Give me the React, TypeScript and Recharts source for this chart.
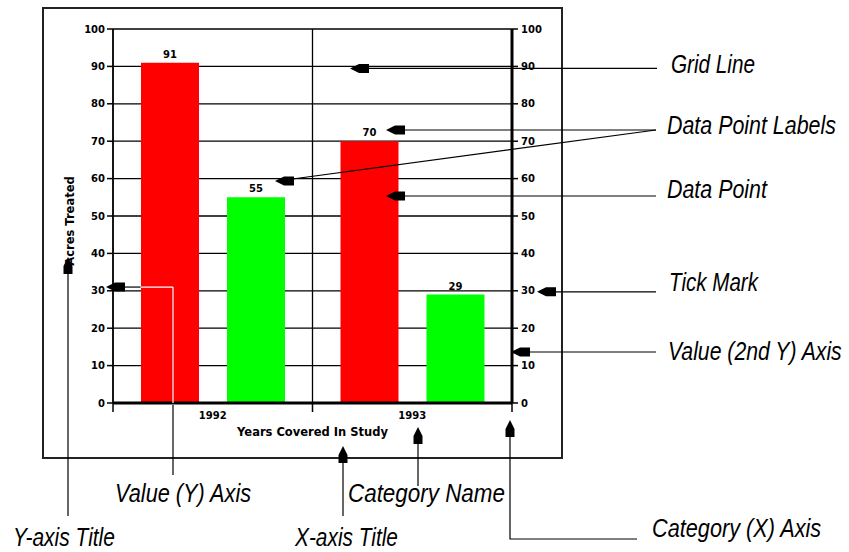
import React from 'react'
import { ComposedChart, Bar, Line, XAxis, YAxis, CartesianGrid, LabelList } from 'recharts'

const years = ['1992', '1993']
const redValues = [91, 70]
const greenValues = [55, 29]
const valueTicks = [0, 10, 20, 30, 40, 50, 60, 70, 80, 90, 100]

const data = years.map((year, i) => ({ year, red: redValues[i], green: greenValues[i] }))

const W = 849
const H = 552
const PLOT_LEFT = 113
const PLOT_RIGHT = 512
const PLOT_TOP = 29
const PLOT_BOTTOM = 403
const AXIS_W = 60
const XAXIS_H = 30

const chartFont = "'DejaVu Sans', 'Liberation Sans', sans-serif"
const noteFont = "'Liberation Sans', Arial, sans-serif"
const NOTE_SIZE = 26

const band = (PLOT_RIGHT - PLOT_LEFT) / years.length
const yPos = (v: number) => PLOT_BOTTOM - ((PLOT_BOTTOM - PLOT_TOP) * v) / 100

// the callout text is a narrow italic; squeeze a normal italic to the wanted width
const ctx = document.createElement('canvas').getContext('2d')
function squeeze(text: string, len: number) {
    if (!ctx) return 0.8
    ctx.font = `italic ${NOTE_SIZE}px 'Liberation Sans'`
    return len / ctx.measureText(text).width
}

const CategoryTick = (props: any) => {
    const { x, payload, index } = props
    return (
        <g>
            <line x1={x - band / 2} x2={x - band / 2} y1={PLOT_BOTTOM} y2={PLOT_BOTTOM + 9} stroke="#000" strokeWidth={1.5} />
            {index === years.length - 1 && (
                <line x1={x + band / 2} x2={x + band / 2} y1={PLOT_BOTTOM} y2={PLOT_BOTTOM + 9} stroke="#000" strokeWidth={1.5} />
            )}
            <text x={x} y={PLOT_BOTTOM + 16} textAnchor="middle" fontFamily={chartFont} fontWeight="bold" fontSize={10} fill="#000">
                {payload.value}
            </text>
        </g>
    )
}

// arrow head, tip at (x, y), pointing 'left' or 'up'
function Arrow({ x, y, dir }: { x: number; y: number; dir: 'left' | 'up' }) {
    const pts = dir === 'left'
        ? [[0, 0], [9, -4.5], [19, -4.5], [19, 4.5], [9, 4.5]]
        : [[0, 0], [-4.5, 9], [-4.5, 17], [4.5, 17], [4.5, 9]]
    return <polygon points={pts.map(([dx, dy]) => `${x + dx},${y + dy}`).join(' ')} fill="#000" />
}

const notes = [
    { text: 'Grid Line', x: 671, y: 73, len: 84 },
    { text: 'Data Point Labels', x: 667, y: 134, len: 169 },
    { text: 'Data Point', x: 667, y: 198, len: 100 },
    { text: 'Tick Mark', x: 669, y: 291, len: 89 },
    { text: 'Value (2nd Y) Axis', x: 668, y: 360, len: 175 },
    { text: 'Value (Y) Axis', x: 115, y: 502, len: 137 },
    { text: 'Category Name', x: 348, y: 502, len: 157 },
    { text: 'Y-axis Title', x: 13, y: 546, len: 102 },
    { text: 'X-axis Title', x: 295, y: 546, len: 103 },
    { text: 'Category (X) Axis', x: 652, y: 537, len: 170 },
]

export default function App() {
    const barLeft = PLOT_LEFT + (band - (58 * 2 + 28)) / 2
    return (
        <div style={{ position: 'absolute', left: 0, top: 0, width: W, height: H, background: '#fff' }}>
            <ComposedChart
                width={W}
                height={H}
                data={data}
                barGap={28}
                margin={{
                    top: PLOT_TOP,
                    left: PLOT_LEFT - AXIS_W,
                    right: W - PLOT_RIGHT - AXIS_W,
                    bottom: H - PLOT_BOTTOM - XAXIS_H,
                }}
            >
                <CartesianGrid
                    yAxisId="left"
                    stroke="#000"
                    strokeWidth={1.3}
                    verticalCoordinatesGenerator={() => years.map((_, i) => PLOT_LEFT + band * i)}
                />
                <XAxis
                    dataKey="year"
                    height={XAXIS_H}
                    interval={0}
                    tickLine={false}
                    axisLine={{ stroke: '#000', strokeWidth: 3 }}
                    tick={<CategoryTick />}
                    label={(p: any) => (
                        <text x={(PLOT_LEFT + PLOT_RIGHT) / 2} y={PLOT_BOTTOM + 33} textAnchor="middle" fontFamily={chartFont} fontWeight="bold" fontSize={11.5} fill="#000">
                            Years Covered In Study
                        </text>
                    )}
                />
                <YAxis
                    yAxisId="left"
                    width={AXIS_W}
                    domain={[0, 100]}
                    ticks={valueTicks}
                    interval={0}
                    tickSize={6}
                    tickMargin={2}
                    axisLine={{ stroke: '#000', strokeWidth: 1.5 }}
                    tickLine={{ stroke: '#000', strokeWidth: 1.5 }}
                    tick={{ fill: '#000', fontSize: 10, fontWeight: 'bold', fontFamily: chartFont }}
                    label={(p: any) => (
                        <text
                            x={70}
                            y={(PLOT_TOP + PLOT_BOTTOM) / 2 + 5}
                            transform={`rotate(-90 70 ${(PLOT_TOP + PLOT_BOTTOM) / 2 + 5})`}
                            textAnchor="middle"
                            dominantBaseline="central"
                            fontFamily={chartFont}
                            fontWeight="bold"
                            fontSize={11.5}
                            fill="#000"
                        >
                            Acres Treated
                        </text>
                    )}
                />
                <YAxis
                    yAxisId="right"
                    orientation="right"
                    width={AXIS_W}
                    domain={[0, 100]}
                    ticks={valueTicks}
                    interval={0}
                    tickSize={6}
                    tickMargin={3}
                    axisLine={{ stroke: '#000', strokeWidth: 3 }}
                    tickLine={{ stroke: '#000', strokeWidth: 1.5 }}
                    tick={{ fill: '#000', fontSize: 10, fontWeight: 'bold', fontFamily: chartFont }}
                />
                <Bar yAxisId="left" dataKey="red" fill="#FF0000" barSize={58} isAnimationActive={false}>
                    <LabelList dataKey="red" position="top" offset={5} fill="#000" fontSize={10} fontWeight="bold" fontFamily={chartFont} />
                </Bar>
                <Bar yAxisId="left" dataKey="green" fill="#00FF00" barSize={58} isAnimationActive={false}>
                    <LabelList dataKey="green" position="top" offset={5} fill="#000" fontSize={10} fontWeight="bold" fontFamily={chartFont} />
                </Bar>
                {/* invisible series so the 2nd value axis gets its scale */}
                <Line yAxisId="right" dataKey="red" stroke="none" dot={false} activeDot={false} legendType="none" isAnimationActive={false} />
            </ComposedChart>

            <svg width={W} height={H} style={{ position: 'absolute', left: 0, top: 0, pointerEvents: 'none' }}>
                <rect x={43} y={8} width={519} height={450} fill="none" stroke="#222" strokeWidth={2} />

                {/* Grid Line */}
                <line x1={360} y1={yPos(90) + 2} x2={657} y2={yPos(90) + 2} stroke="#000" strokeWidth={1.2} />
                <Arrow x={350} y={yPos(90) + 2} dir="left" />

                {/* Data Point Labels */}
                <line x1={395} y1={130} x2={656} y2={130} stroke="#000" strokeWidth={1.2} />
                <Arrow x={386} y={130} dir="left" />
                <line x1={285} y1={180} x2={656} y2={130} stroke="#000" strokeWidth={1.2} />
                <Arrow x={275} y={181} dir="left" />

                {/* Data Point */}
                <line x1={395} y1={196} x2={656} y2={196} stroke="#000" strokeWidth={1.2} />
                <Arrow x={386} y={196} dir="left" />

                {/* Tick Mark */}
                <line x1={545} y1={yPos(30) + 1} x2={656} y2={yPos(30) + 1} stroke="#000" strokeWidth={1.2} />
                <Arrow x={537} y={yPos(30) + 1} dir="left" />

                {/* Value (2nd Y) Axis */}
                <line x1={520} y1={352} x2={656} y2={352} stroke="#000" strokeWidth={1.2} />
                <Arrow x={511} y={352} dir="left" />

                {/* Value (Y) Axis */}
                <line x1={115} y1={yPos(31)} x2={barLeft} y2={yPos(31)} stroke="#000" strokeWidth={1.2} />
                <line x1={barLeft} y1={yPos(31)} x2={173} y2={yPos(31)} stroke="#fff" strokeWidth={1.2} />
                <line x1={173} y1={yPos(31)} x2={173} y2={PLOT_BOTTOM} stroke="#fff" strokeWidth={1.2} />
                <line x1={173} y1={PLOT_BOTTOM + 2} x2={173} y2={475} stroke="#000" strokeWidth={1.2} />
                <Arrow x={106} y={yPos(31)} dir="left" />

                {/* Y-axis Title */}
                <line x1={68} y1={265} x2={68} y2={516} stroke="#000" strokeWidth={1.2} />
                <Arrow x={68} y={257} dir="up" />

                {/* X-axis Title */}
                <line x1={343} y1={455} x2={343} y2={516} stroke="#000" strokeWidth={1.2} />
                <Arrow x={343} y={446} dir="up" />

                {/* Category Name */}
                <line x1={418} y1={435} x2={418} y2={486} stroke="#000" strokeWidth={1.2} />
                <Arrow x={418} y={427} dir="up" />

                {/* Category (X) Axis */}
                <polyline points={`510,428 510,539 637,539`} fill="none" stroke="#000" strokeWidth={1.2} />
                <Arrow x={510} y={420} dir="up" />

                {notes.map((n) => (
                    <text
                        key={n.text}
                        transform={`translate(${n.x} ${n.y}) scale(${squeeze(n.text, n.len)} 1)`}
                        fontFamily={noteFont}
                        fontStyle="italic"
                        fontSize={NOTE_SIZE}
                        fill="#000"
                    >
                        {n.text}
                    </text>
                ))}
            </svg>
        </div>
    )
}
